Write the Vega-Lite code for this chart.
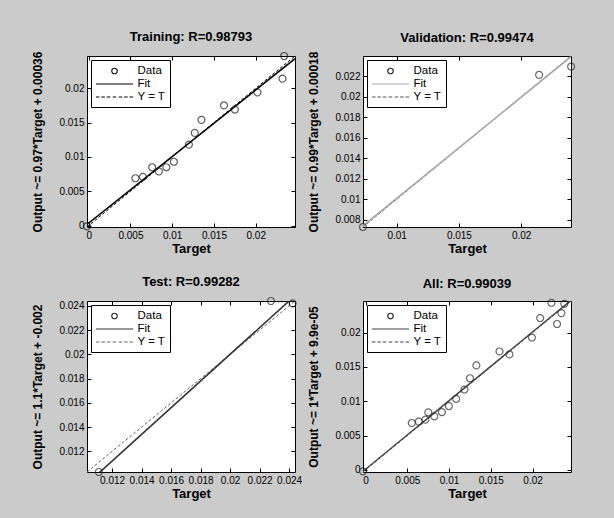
{
  "$schema": "https://vega.github.io/schema/vega-lite/v6.json",
  "background": "#cbcbcb",
  "padding": {"left": 31, "top": 30, "right": 38, "bottom": 22},
  "datasets": {
    "trainPts": [
      {"series": "Data", "t": -0.0002, "o": -0.0001},
      {"series": "Data", "t": 0.0056, "o": 0.0069},
      {"series": "Data", "t": 0.0065, "o": 0.0071},
      {"series": "Data", "t": 0.0076, "o": 0.0085},
      {"series": "Data", "t": 0.0084, "o": 0.0079},
      {"series": "Data", "t": 0.0093, "o": 0.0085},
      {"series": "Data", "t": 0.0102, "o": 0.0093},
      {"series": "Data", "t": 0.0120, "o": 0.0118},
      {"series": "Data", "t": 0.0127, "o": 0.0135},
      {"series": "Data", "t": 0.0135, "o": 0.0154},
      {"series": "Data", "t": 0.0162, "o": 0.0175},
      {"series": "Data", "t": 0.0175, "o": 0.0169},
      {"series": "Data", "t": 0.0202, "o": 0.0194},
      {"series": "Data", "t": 0.0232, "o": 0.0214},
      {"series": "Data", "t": 0.0234, "o": 0.0247}
    ],
    "trainFit": [
      {"series": "Fit", "t": -0.0002, "o": 0.000166},
      {"series": "Fit", "t": 0.0247, "o": 0.024319}
    ],
    "trainYT": [
      {"series": "Y = T", "t": -0.0002, "o": -0.0002},
      {"series": "Y = T", "t": 0.0247, "o": 0.0247}
    ],
    "valPts": [
      {"series": "Data", "t": 0.0073, "o": 0.0073},
      {"series": "Data", "t": 0.02144, "o": 0.02216},
      {"series": "Data", "t": 0.02401, "o": 0.02297}
    ],
    "valFit": [
      {"series": "Fit", "t": 0.0073, "o": 0.007407},
      {"series": "Fit", "t": 0.0240, "o": 0.02394}
    ],
    "valYT": [
      {"series": "Y = T", "t": 0.0073, "o": 0.0073},
      {"series": "Y = T", "t": 0.0240, "o": 0.0240}
    ],
    "testPts": [
      {"series": "Data", "t": 0.0111, "o": 0.0103},
      {"series": "Data", "t": 0.02277, "o": 0.0244},
      {"series": "Data", "t": 0.02424, "o": 0.02421}
    ],
    "testFit": [
      {"series": "Fit", "t": 0.0103, "o": 0.00933},
      {"series": "Fit", "t": 0.0244, "o": 0.02484}
    ],
    "testYT": [
      {"series": "Y = T", "t": 0.0103, "o": 0.0103},
      {"series": "Y = T", "t": 0.0244, "o": 0.0244}
    ],
    "allPts": [
      {"series": "Data", "t": -0.0003, "o": -0.0002},
      {"series": "Data", "t": 0.00554, "o": 0.00684},
      {"series": "Data", "t": 0.00638, "o": 0.00704},
      {"series": "Data", "t": 0.00717, "o": 0.00733},
      {"series": "Data", "t": 0.00752, "o": 0.00839},
      {"series": "Data", "t": 0.00824, "o": 0.00781},
      {"series": "Data", "t": 0.00915, "o": 0.00843},
      {"series": "Data", "t": 0.00998, "o": 0.0093},
      {"series": "Data", "t": 0.01085, "o": 0.01036},
      {"series": "Data", "t": 0.01184, "o": 0.01171},
      {"series": "Data", "t": 0.01251, "o": 0.01335},
      {"series": "Data", "t": 0.01327, "o": 0.01523},
      {"series": "Data", "t": 0.01604, "o": 0.01725},
      {"series": "Data", "t": 0.01723, "o": 0.01682},
      {"series": "Data", "t": 0.01992, "o": 0.01928},
      {"series": "Data", "t": 0.02091, "o": 0.02212},
      {"series": "Data", "t": 0.02226, "o": 0.02434},
      {"series": "Data", "t": 0.02293, "o": 0.02125},
      {"series": "Data", "t": 0.02345, "o": 0.02284},
      {"series": "Data", "t": 0.0238, "o": 0.02419}
    ],
    "allFit": [
      {"series": "Fit", "t": -0.0003, "o": -0.000201},
      {"series": "Fit", "t": 0.0246, "o": 0.024699}
    ],
    "allYT": [
      {"series": "Y = T", "t": -0.0003, "o": -0.0003},
      {"series": "Y = T", "t": 0.0246, "o": 0.0246}
    ]
  },
  "columns": 2,
  "bounds": "flush",
  "spacing": {"column": 68, "row": 74},
  "resolve": {
    "scale": {"x": "independent", "y": "independent", "color": "independent", "shape": "independent"},
    "legend": {"color": "independent", "shape": "independent"}
  },
  "concat": [
    {
      "width": 208, "height": 171,
      "title": "Training: R=0.98793",
      "resolve": {"axis": {"x": "independent", "y": "independent"}},
      "layer": [
        {
          "data": {"name": "trainYT"},
          "mark": {"type": "line", "clip": true, "color": "#000", "strokeWidth": 1, "strokeDash": [3, 2]},
          "encoding": {
            "x": {"field": "t", "type": "quantitative", "scale": {"domain": [-0.0002, 0.0247], "nice": false, "zero": false}, "axis": {"values": [0, 0.005, 0.01, 0.015, 0.02], "title": "Target"}},
            "y": {"field": "o", "type": "quantitative", "scale": {"domain": [-0.0002, 0.0247], "nice": false, "zero": false}, "axis": {"values": [0, 0.005, 0.01, 0.015, 0.02], "title": "Output ~= 0.97*Target + 0.00036"}}
          }
        },
        {
          "data": {"name": "trainFit"},
          "mark": {"type": "line", "clip": true, "color": "#000", "strokeWidth": 1.6},
          "encoding": {
            "x": {"field": "t", "type": "quantitative", "axis": {"orient": "top", "labels": false, "title": null, "values": [0, 0.005, 0.01, 0.015, 0.02]}},
            "y": {"field": "o", "type": "quantitative", "axis": {"orient": "right", "labels": false, "title": null, "values": [0, 0.005, 0.01, 0.015, 0.02]}}
          }
        },
        {
          "data": {"name": "trainPts"},
          "mark": {"type": "point", "filled": false, "size": 230, "strokeWidth": 1.2},
          "encoding": {
            "x": {"field": "t", "type": "quantitative", "axis": null},
            "y": {"field": "o", "type": "quantitative", "axis": null},
            "color": {"field": "series", "type": "nominal", "scale": {"domain": ["Data", "Fit", "Y = T"], "range": ["#1a1a1a", "#000", "#000"]}, "legend": {"title": null}},
            "shape": {"field": "series", "type": "nominal", "scale": {"domain": ["Data", "Fit", "Y = T"], "range": ["M-0.46,0A0.46,0.46,0,1,0,0.46,0A0.46,0.46,0,1,0,-0.46,0Z", "M-3.1,0L3.1,0", "M-3.1,0L-2.5,0M-2.2,0L-1.6,0M-1.3,0L-0.7,0M-0.3,0L0.3,0M0.7,0L1.3,0M1.6,0L2.2,0M2.5,0L3.1,0"]}, "legend": {"title": null}}
          }
        }
      ]
    },
    {
      "width": 208, "height": 171,
      "title": "Validation: R=0.99474",
      "resolve": {"axis": {"x": "independent", "y": "independent"}},
      "layer": [
        {
          "data": {"name": "valYT"},
          "mark": {"type": "line", "clip": true, "color": "#555", "strokeWidth": 1, "strokeDash": [3, 2]},
          "encoding": {
            "x": {"field": "t", "type": "quantitative", "scale": {"domain": [0.0073, 0.0240], "nice": false, "zero": false}, "axis": {"values": [0.01, 0.015, 0.02], "title": "Target"}},
            "y": {"field": "o", "type": "quantitative", "scale": {"domain": [0.0073, 0.0240], "nice": false, "zero": false}, "axis": {"values": [0.008, 0.01, 0.012, 0.014, 0.016, 0.018, 0.02, 0.022], "title": "Output ~= 0.99*Target + 0.00018"}}
          }
        },
        {
          "data": {"name": "valFit"},
          "mark": {"type": "line", "clip": true, "color": "#a8a8a8", "strokeWidth": 1.6},
          "encoding": {
            "x": {"field": "t", "type": "quantitative", "axis": {"orient": "top", "labels": false, "title": null, "values": [0.01, 0.015, 0.02]}},
            "y": {"field": "o", "type": "quantitative", "axis": {"orient": "right", "labels": false, "title": null, "values": [0.008, 0.01, 0.012, 0.014, 0.016, 0.018, 0.02, 0.022]}}
          }
        },
        {
          "data": {"name": "valPts"},
          "mark": {"type": "point", "filled": false, "size": 230, "strokeWidth": 1.2},
          "encoding": {
            "x": {"field": "t", "type": "quantitative", "axis": null},
            "y": {"field": "o", "type": "quantitative", "axis": null},
            "color": {"field": "series", "type": "nominal", "scale": {"domain": ["Data", "Fit", "Y = T"], "range": ["#2a2a2a", "#a8a8a8", "#555"]}, "legend": {"title": null}},
            "shape": {"field": "series", "type": "nominal", "scale": {"domain": ["Data", "Fit", "Y = T"], "range": ["M-0.46,0A0.46,0.46,0,1,0,0.46,0A0.46,0.46,0,1,0,-0.46,0Z", "M-3.1,0L3.1,0", "M-3.1,0L-2.5,0M-2.2,0L-1.6,0M-1.3,0L-0.7,0M-0.3,0L0.3,0M0.7,0L1.3,0M1.6,0L2.2,0M2.5,0L3.1,0"]}, "legend": {"title": null}}
          }
        }
      ]
    },
    {
      "width": 208, "height": 171,
      "title": "Test: R=0.99282",
      "resolve": {"axis": {"x": "independent", "y": "independent"}},
      "layer": [
        {
          "data": {"name": "testYT"},
          "mark": {"type": "line", "clip": true, "color": "#666", "strokeWidth": 1, "strokeDash": [3, 2]},
          "encoding": {
            "x": {"field": "t", "type": "quantitative", "scale": {"domain": [0.0103, 0.0244], "nice": false, "zero": false}, "axis": {"values": [0.012, 0.014, 0.016, 0.018, 0.02, 0.022, 0.024], "title": "Target"}},
            "y": {"field": "o", "type": "quantitative", "scale": {"domain": [0.0103, 0.0244], "nice": false, "zero": false}, "axis": {"values": [0.012, 0.014, 0.016, 0.018, 0.02, 0.022, 0.024], "title": "Output ~= 1.1*Target + -0.002"}}
          }
        },
        {
          "data": {"name": "testFit"},
          "mark": {"type": "line", "clip": true, "color": "#333", "strokeWidth": 1.6},
          "encoding": {
            "x": {"field": "t", "type": "quantitative", "axis": {"orient": "top", "labels": false, "title": null, "values": [0.012, 0.014, 0.016, 0.018, 0.02, 0.022, 0.024]}},
            "y": {"field": "o", "type": "quantitative", "axis": {"orient": "right", "labels": false, "title": null, "values": [0.012, 0.014, 0.016, 0.018, 0.02, 0.022, 0.024]}}
          }
        },
        {
          "data": {"name": "testPts"},
          "mark": {"type": "point", "filled": false, "size": 230, "strokeWidth": 1.2},
          "encoding": {
            "x": {"field": "t", "type": "quantitative", "axis": null},
            "y": {"field": "o", "type": "quantitative", "axis": null},
            "color": {"field": "series", "type": "nominal", "scale": {"domain": ["Data", "Fit", "Y = T"], "range": ["#2a2a2a", "#333", "#666"]}, "legend": {"title": null}},
            "shape": {"field": "series", "type": "nominal", "scale": {"domain": ["Data", "Fit", "Y = T"], "range": ["M-0.46,0A0.46,0.46,0,1,0,0.46,0A0.46,0.46,0,1,0,-0.46,0Z", "M-3.1,0L3.1,0", "M-3.1,0L-2.5,0M-2.2,0L-1.6,0M-1.3,0L-0.7,0M-0.3,0L0.3,0M0.7,0L1.3,0M1.6,0L2.2,0M2.5,0L3.1,0"]}, "legend": {"title": null}}
          }
        }
      ]
    },
    {
      "width": 208, "height": 171,
      "title": "All: R=0.99039",
      "resolve": {"axis": {"x": "independent", "y": "independent"}},
      "layer": [
        {
          "data": {"name": "allYT"},
          "mark": {"type": "line", "clip": true, "color": "#444", "strokeWidth": 1, "strokeDash": [3, 2]},
          "encoding": {
            "x": {"field": "t", "type": "quantitative", "scale": {"domain": [-0.0003, 0.0246], "nice": false, "zero": false}, "axis": {"values": [0, 0.005, 0.01, 0.015, 0.02], "title": "Target"}},
            "y": {"field": "o", "type": "quantitative", "scale": {"domain": [-0.0003, 0.0246], "nice": false, "zero": false}, "axis": {"values": [0, 0.005, 0.01, 0.015, 0.02], "title": "Output ~= 1*Target + 9.9e-05"}}
          }
        },
        {
          "data": {"name": "allFit"},
          "mark": {"type": "line", "clip": true, "color": "#444", "strokeWidth": 1.4},
          "encoding": {
            "x": {"field": "t", "type": "quantitative", "axis": {"orient": "top", "labels": false, "title": null, "values": [0, 0.005, 0.01, 0.015, 0.02]}},
            "y": {"field": "o", "type": "quantitative", "axis": {"orient": "right", "labels": false, "title": null, "values": [0, 0.005, 0.01, 0.015, 0.02]}}
          }
        },
        {
          "data": {"name": "allPts"},
          "mark": {"type": "point", "filled": false, "size": 230, "strokeWidth": 1.2},
          "encoding": {
            "x": {"field": "t", "type": "quantitative", "axis": null},
            "y": {"field": "o", "type": "quantitative", "axis": null},
            "color": {"field": "series", "type": "nominal", "scale": {"domain": ["Data", "Fit", "Y = T"], "range": ["#2a2a2a", "#444", "#444"]}, "legend": {"title": null}},
            "shape": {"field": "series", "type": "nominal", "scale": {"domain": ["Data", "Fit", "Y = T"], "range": ["M-0.46,0A0.46,0.46,0,1,0,0.46,0A0.46,0.46,0,1,0,-0.46,0Z", "M-3.1,0L3.1,0", "M-3.1,0L-2.5,0M-2.2,0L-1.6,0M-1.3,0L-0.7,0M-0.3,0L0.3,0M0.7,0L1.3,0M1.6,0L2.2,0M2.5,0L3.1,0"]}, "legend": {"title": null}}
          }
        }
      ]
    }
  ],
  "config": {
    "view": {"stroke": "#000", "strokeWidth": 1, "fill": "#ffffff"},
    "title": {"font": "Liberation Sans", "fontSize": 13, "fontWeight": "bold", "color": "#000", "offset": 6},
    "axis": {
      "labelFont": "Liberation Sans", "labelFontSize": 10, "labelColor": "#000",
      "tickColor": "#000", "tickSize": -4, "labelPadding": 7, "domain": false, "grid": false,
      "titleFont": "Liberation Sans", "titleFontSize": 13, "titleFontWeight": "bold", "titleColor": "#000",
      "labelOverlap": false, "labelFlush": false, "labelExpr": "toString(datum.value)"
    },
    "axisY": {"titleFontSize": 12, "titlePadding": 14},
    "axisX": {"titlePadding": 2},
    "legend": {
      "orient": "top-left", "offset": 4, "fillColor": "#ffffff", "strokeColor": "#000", "padding": 4,
      "symbolSize": 144, "symbolOffset": 12.5, "symbolStrokeWidth": 1.2, "symbolOpacity": 1,
      "labelFont": "Liberation Sans", "labelFontSize": 11.5, "labelColor": "#000", "labelOffset": 16, "rowPadding": 0
    }
  }
}
